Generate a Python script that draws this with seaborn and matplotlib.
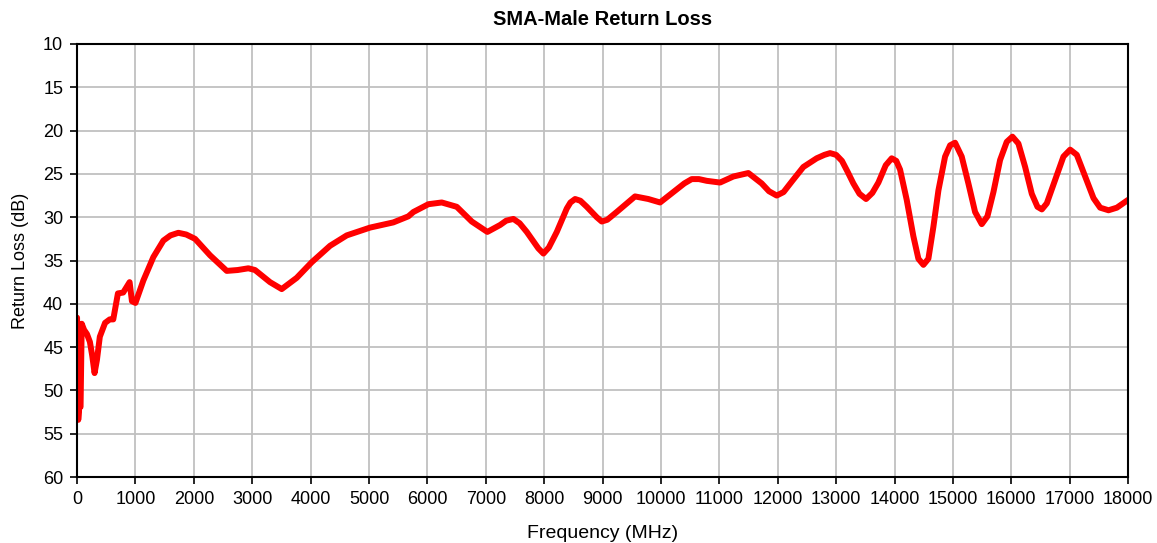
"""SMA-Male return loss chart."""

import pandas as pd
import numpy as np
import matplotlib
matplotlib.use("Agg")
import matplotlib.pyplot as plt
import seaborn as sns

# values
freq_mhz = [
    0, 20, 40, 60, 80, 120, 170, 220, 260, 300, 340, 390, 480, 560, 620,
    700, 790, 900, 940, 1000, 1136, 1307, 1478, 1600, 1735, 1870, 2021,
    2278, 2564, 2750, 2934, 3048, 3305, 3505, 3762, 4019, 4333, 4619,
    5018, 5417, 5674, 5760, 6017, 6246, 6503, 6760, 7027, 7245, 7350,
    7473, 7580, 7702, 7900, 7987, 8080, 8216, 8387, 8450, 8530, 8620,
    8730, 8900, 8986, 9080, 9242, 9556, 9784, 9985, 10213, 10400, 10527,
    10650, 10784, 11012, 11240, 11497, 11725, 11850, 11982, 12100, 12250,
    12439, 12667, 12800, 12896, 13000, 13100, 13200, 13295, 13400, 13513,
    13620, 13724, 13850, 13952, 14030, 14095, 14209, 14323, 14409, 14495,
    14580, 14666, 14752, 14866, 14952, 15037, 15151, 15265, 15380, 15494,
    15591, 15694, 15808, 15922, 16019, 16122, 16237, 16351, 16448, 16523,
    16608, 16751, 16893, 17008, 17122, 17265, 17408, 17522, 17665, 17808,
    18000,
]
return_loss_db = [
    41.6, 53.4, 51.8, 51.9, 42.3, 43.0, 43.5, 44.4, 46.0, 48.0, 46.5,
    43.8, 42.2, 41.8, 41.8, 38.8, 38.7, 37.5, 39.7, 39.9, 37.3, 34.6,
    32.7, 32.1, 31.8, 32.0, 32.5, 34.4, 36.2, 36.1, 35.9, 36.1, 37.5,
    38.3, 37.0, 35.2, 33.3, 32.1, 31.2, 30.6, 29.9, 29.4, 28.5, 28.3,
    28.8, 30.5, 31.7, 30.9, 30.4, 30.2, 30.7, 31.7, 33.6, 34.2, 33.5,
    31.7, 29.0, 28.3, 27.9, 28.1, 28.8, 30.0, 30.5, 30.3, 29.4, 27.6,
    27.9, 28.3, 27.1, 26.1, 25.6, 25.6, 25.8, 26.0, 25.3, 24.9, 26.1,
    27.0, 27.5, 27.1, 25.8, 24.2, 23.2, 22.8, 22.6, 22.8, 23.5, 24.8,
    26.1, 27.3, 27.9, 27.2, 26.0, 24.0, 23.2, 23.5, 24.5, 28.0, 32.2,
    34.8, 35.5, 34.8, 31.1, 26.9, 23.0, 21.7, 21.4, 23.0, 26.1, 29.4,
    30.8, 29.9, 27.1, 23.4, 21.3, 20.7, 21.5, 24.2, 27.3, 28.8, 29.1,
    28.4, 25.7, 23.0, 22.2, 22.8, 25.3, 27.8, 28.9, 29.2, 28.9, 28.0,
]
x_ticks = list(range(0, 18001, 1000))
y_ticks = list(range(10, 61, 5))

df = pd.DataFrame({"freq": freq_mhz, "rl": return_loss_db})

sns.set_theme(style="whitegrid")
plt.rcParams["font.family"] = ["Liberation Sans", "DejaVu Sans"]

fig = plt.figure(figsize=(11.57, 5.43), dpi=100)
ax = fig.add_axes([0.0666, 0.1215, 0.9084, 0.7975])

sns.lineplot(data=df, x="freq", y="rl", ax=ax, color="#FF0000",
             linewidth=4.3, sort=False, solid_joinstyle="round",
             solid_capstyle="round")

ax.set_xlim(0, 18000)
ax.set_ylim(60, 10)
ax.set_xticks(x_ticks)
ax.set_yticks(y_ticks)
ax.tick_params(axis="both", labelsize=13, colors="black", direction="out",
               length=5, width=1.2, bottom=True, left=True, pad=5)

ax.grid(True, color="#C0C0C0", linewidth=1.3)
ax.set_facecolor("white")
for side in ["left", "right", "top", "bottom"]:
    ax.spines[side].set_color("black")
    ax.spines[side].set_linewidth(1.5)

ax.set_xlabel("Frequency (MHz)", fontsize=14, color="black", labelpad=12)
ax.set_ylabel("Return Loss (dB)", fontsize=13, color="black", labelpad=10)
ax.set_title("SMA-Male Return Loss", fontsize=14.5, fontweight="bold",
             color="black", pad=14)

fig.savefig("out.png", dpi=100)
